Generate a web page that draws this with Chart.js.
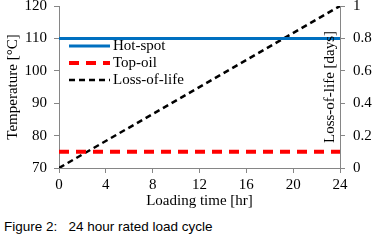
<!DOCTYPE html>
<html>
<head>
<meta charset="utf-8">
<script src="https://cdn.jsdelivr.net/npm/chart.js@4/dist/chart.umd.min.js"></script>
<style>
  body { margin: 0; background: #fff; }
  #wrap { position: relative; width: 382px; height: 210px; }
  #caption { position: absolute; left: 4px; top: 219px; font: 13.5px "Liberation Sans", Arial, sans-serif; color: #000; white-space: pre; }
</style>
</head>
<body>
<div id="wrap"><canvas id="chart"></canvas></div>
<div id="caption">Figure 2:   24 hour rated load cycle</div>
<script>
const hours = [0, 24];
const hotSpot = [110, 110];
const topOil = [75, 75];
const lossOfLife = [0, 1];
const seriesNames = ["Hot-spot", "Top-oil", "Loss-of-life"];

const serif = "'Liberation Serif', 'Times New Roman', serif";
const axisGray = "#868686";

function pts(ys) {
  return hours.map(function (h, i) { return { x: h, y: ys[i] }; });
}

// legend inside the plot and right axis title drawn inside the plot
const overlay = {
  id: "overlay",
  afterDraw: function (chart) {
    const ctx = chart.ctx;
    const area = chart.chartArea;
    ctx.save();
    ctx.font = "15px " + serif;
    ctx.textBaseline = "middle";
    chart.data.datasets.forEach(function (ds, i) {
      const y = area.top + 40 + i * 17;
      const x0 = area.left + 10;
      ctx.beginPath();
      ctx.strokeStyle = ds.borderColor;
      ctx.lineWidth = ds.borderWidth;
      ctx.setLineDash(ds.borderDash || []);
      ctx.moveTo(x0, y);
      ctx.lineTo(x0 + 41, y);
      ctx.stroke();
      ctx.setLineDash([]);
      ctx.fillStyle = "#000";
      ctx.textAlign = "left";
      ctx.fillText(ds.label, x0 + 44, y);
    });
    ctx.translate(area.right - 10, (area.top + area.bottom) / 2);
    ctx.rotate(-Math.PI / 2);
    ctx.textAlign = "center";
    ctx.fillText("Loss-of-life [days]", 0, 0);
    ctx.restore();
  }
};

function noVPad(s) {
  s.paddingTop = 0;
  s.paddingBottom = 0;
}

new Chart(document.getElementById("chart"), {
  type: "line",
  data: {
    datasets: [
      {
        label: seriesNames[0],
        data: pts(hotSpot),
        borderColor: "#0070C0",
        borderWidth: 3,
        pointRadius: 0,
        yAxisID: "y"
      },
      {
        label: seriesNames[1],
        data: pts(topOil),
        borderColor: "#FF0000",
        borderWidth: 4,
        borderDash: [10, 7],
        pointRadius: 0,
        yAxisID: "y"
      },
      {
        label: seriesNames[2],
        data: pts(lossOfLife),
        borderColor: "#000000",
        borderWidth: 2.5,
        borderDash: [6, 4],
        pointRadius: 0,
        yAxisID: "y2"
      }
    ]
  },
  options: {
    responsive: true,
    maintainAspectRatio: false,
    animation: false,
    layout: { padding: { top: 6, left: 4, right: 0, bottom: 0 } },
    plugins: {
      legend: { display: false },
      tooltip: { enabled: false }
    },
    scales: {
      x: {
        type: "linear",
        min: 0,
        max: 24,
        afterFit: function (s) { s.height = 42; },
        ticks: { stepSize: 4, color: "#000", font: { family: serif, size: 15 }, padding: 3, maxRotation: 0 },
        grid: { drawOnChartArea: false, tickLength: 5, color: axisGray },
        border: { color: axisGray, width: 1 },
        title: { display: true, text: "Loading time [hr]", color: "#000", font: { family: serif, size: 15 }, padding: { top: -4, bottom: 0 } }
      },
      y: {
        position: "left",
        min: 70,
        max: 120,
        afterFit: function (s) { s.width = 55; noVPad(s); },
        ticks: { stepSize: 10, color: "#000", font: { family: serif, size: 15 }, padding: 7 },
        grid: { drawOnChartArea: false, tickLength: 5, color: axisGray },
        border: { color: axisGray, width: 1 },
        title: { display: true, text: "Temperature [°C]", color: "#000", font: { family: serif, size: 15 }, padding: { top: 0, bottom: 0 } }
      },
      y2: {
        position: "right",
        min: 0,
        max: 1,
        afterFit: function (s) { s.width = 42; noVPad(s); },
        ticks: {
          stepSize: 0.2, color: "#000", font: { family: serif, size: 15 }, padding: 8,
          callback: function (v) { return String(Math.round(v * 10) / 10); }
        },
        grid: { drawOnChartArea: false, tickLength: 5, color: axisGray },
        border: { color: axisGray, width: 1 }
      }
    }
  },
  plugins: [overlay]
});
</script>
</body>
</html>
